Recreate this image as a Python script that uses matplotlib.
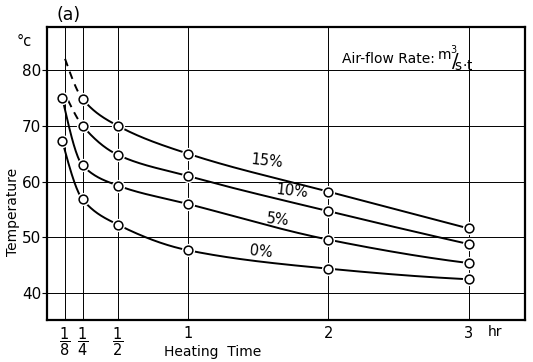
import numpy as np
import matplotlib
matplotlib.use("Agg")
import matplotlib.pyplot as plt

plt.rcParams["font.family"] = ["DejaVu Sans"]
plt.rcParams["mathtext.fontset"] = "dejavusans"

# Heating time (hr) and kernel temperature (deg C) for each moisture addition
t_0 = [0.105, 0.25, 0.5, 1.0, 2.0, 3.0]
temp_0 = [67.3, 56.8, 52.3, 47.7, 44.4, 42.5]

t_5 = [0.105, 0.25, 0.5, 1.0, 2.0, 3.0]
temp_5 = [75.0, 62.9, 59.3, 56.0, 49.6, 45.4]

t_10 = [0.25, 0.5, 1.0, 2.0, 3.0]
temp_10 = [70.0, 64.8, 61.0, 54.7, 48.8]
lead_10 = (0.146, 74.6)  # extrapolated start (dashed)

t_15 = [0.25, 0.5, 1.0, 2.0, 3.0]
temp_15 = [74.8, 70.0, 65.0, 58.2, 51.6]
lead_15 = (0.125, 82.0)  # extrapolated start (dashed)

series_labels = ["0%", "5%", "10%", "15%"]
label_pos = [(1.52, 47.4), (1.64, 53.2), (1.74, 58.2), (1.56, 63.6)]

xtick_vals = [1 / 8, 1 / 4, 1 / 2, 1, 2, 3]
xtick_text = [r"$\dfrac{1}{8}$", r"$\dfrac{1}{4}$", r"$\dfrac{1}{2}$", "1", "2", "3"]
ytick_vals = [40, 50, 60, 70, 80]


def pchip(x, y, xs):
    """Monotone piecewise cubic (Fritsch-Carlson) through the given points."""
    x = np.asarray(x, float)
    y = np.asarray(y, float)
    h = np.diff(x)
    d = np.diff(y) / h
    n = len(x)
    m = np.zeros(n)
    for k in range(1, n - 1):
        if d[k - 1] * d[k] > 0:
            w1 = 2 * h[k] + h[k - 1]
            w2 = h[k] + 2 * h[k - 1]
            m[k] = (w1 + w2) / (w1 / d[k - 1] + w2 / d[k])
    m[0] = ((2 * h[0] + h[1]) * d[0] - h[0] * d[1]) / (h[0] + h[1])
    if np.sign(m[0]) != np.sign(d[0]):
        m[0] = 0
    m[-1] = ((2 * h[-1] + h[-2]) * d[-1] - h[-1] * d[-2]) / (h[-1] + h[-2])
    if np.sign(m[-1]) != np.sign(d[-1]):
        m[-1] = 0
    idx = np.clip(np.searchsorted(x, xs) - 1, 0, n - 2)
    hh = h[idx]
    s = (xs - x[idx]) / hh
    h00 = 2 * s**3 - 3 * s**2 + 1
    h10 = s**3 - 2 * s**2 + s
    h01 = -2 * s**3 + 3 * s**2
    h11 = s**3 - s**2
    return h00 * y[idx] + h10 * hh * m[idx] + h01 * y[idx + 1] + h11 * hh * m[idx + 1]


fig = plt.figure(figsize=(5.33, 3.62), dpi=100)
ax = fig.add_axes([0.0891, 0.116, 0.8959, 0.8094])
ax.set_xlim(0, 3.40)
ax.set_ylim(35.2, 87.7)

# grid
for xv in xtick_vals:
    ax.axvline(xv, color="black", lw=0.7, zorder=1)
for yv in ytick_vals:
    ax.axhline(yv, color="black", lw=0.7, zorder=1)

line_kw = dict(color="black", lw=1.4, zorder=3)
dash_kw = dict(color="black", lw=1.4, zorder=3, dashes=(4, 3))


def draw_series(t, temp, lead=None):
    xs_pts = list(t)
    ys_pts = list(temp)
    if lead is not None:
        xs_pts = [lead[0]] + xs_pts
        ys_pts = [lead[1]] + ys_pts
    xs = np.linspace(xs_pts[0], xs_pts[-1], 600)
    ys = pchip(xs_pts, ys_pts, xs)
    if lead is not None:
        cut = t[0]
        ax.plot(xs[xs <= cut], ys[xs <= cut], **dash_kw)
        ax.plot(xs[xs >= cut], ys[xs >= cut], **line_kw)
    else:
        ax.plot(xs, ys, **line_kw)
    # white halo then open circle
    ax.plot(t, temp, "o", ms=9.5, mfc="white", mec="white", mew=0, zorder=4)
    ax.plot(t, temp, "o", ms=6.3, mfc="white", mec="black", mew=1.1, zorder=5)


draw_series(t_0, temp_0)
draw_series(t_5, temp_5)
draw_series(t_10, temp_10, lead_10)
draw_series(t_15, temp_15, lead_15)

for lab, (lx, ly) in zip(series_labels, label_pos):
    ax.text(lx, ly, lab, fontsize=10.5, ha="center", va="center", rotation=-6, zorder=6)

ax.set_xticks(xtick_vals)
ax.set_xticklabels(xtick_text, fontsize=10.5)
ax.set_yticks(ytick_vals)
ax.set_yticklabels([str(v) for v in ytick_vals], fontsize=11)
ax.tick_params(axis="x", length=0, pad=4)
ax.tick_params(axis="y", length=3.5, width=0.8, direction="out", pad=1)
for sp in ax.spines.values():
    sp.set_linewidth(1.6)

fig.text(69 / 533, 1 - 15 / 362, "(a)", fontsize=12.5, ha="center", va="center")
fig.text(24 / 533, 1 - 41 / 362, "°c", fontsize=10.5, ha="center", va="center")
fig.text(13 / 533, 1 - 212 / 362, "Temperature", fontsize=10, rotation=90,
         ha="center", va="center")
fig.text(213 / 533, 1 - 352 / 362, "Heating  Time", fontsize=10, ha="center", va="center")
fig.text(495 / 533, 1 - 332 / 362, "hr", fontsize=10, ha="center", va="center")
ax.text(2.76, 82.0, "Air-flow Rate:", fontsize=10, ha="right", va="center", zorder=6)
ax.text(2.77, 82.0, r"$\mathregular{^{m^3}\!\!/\!_{s{\cdot}t}}$",
        fontsize=14, ha="left", va="center", zorder=6)

fig.savefig("out.png", dpi=100)
